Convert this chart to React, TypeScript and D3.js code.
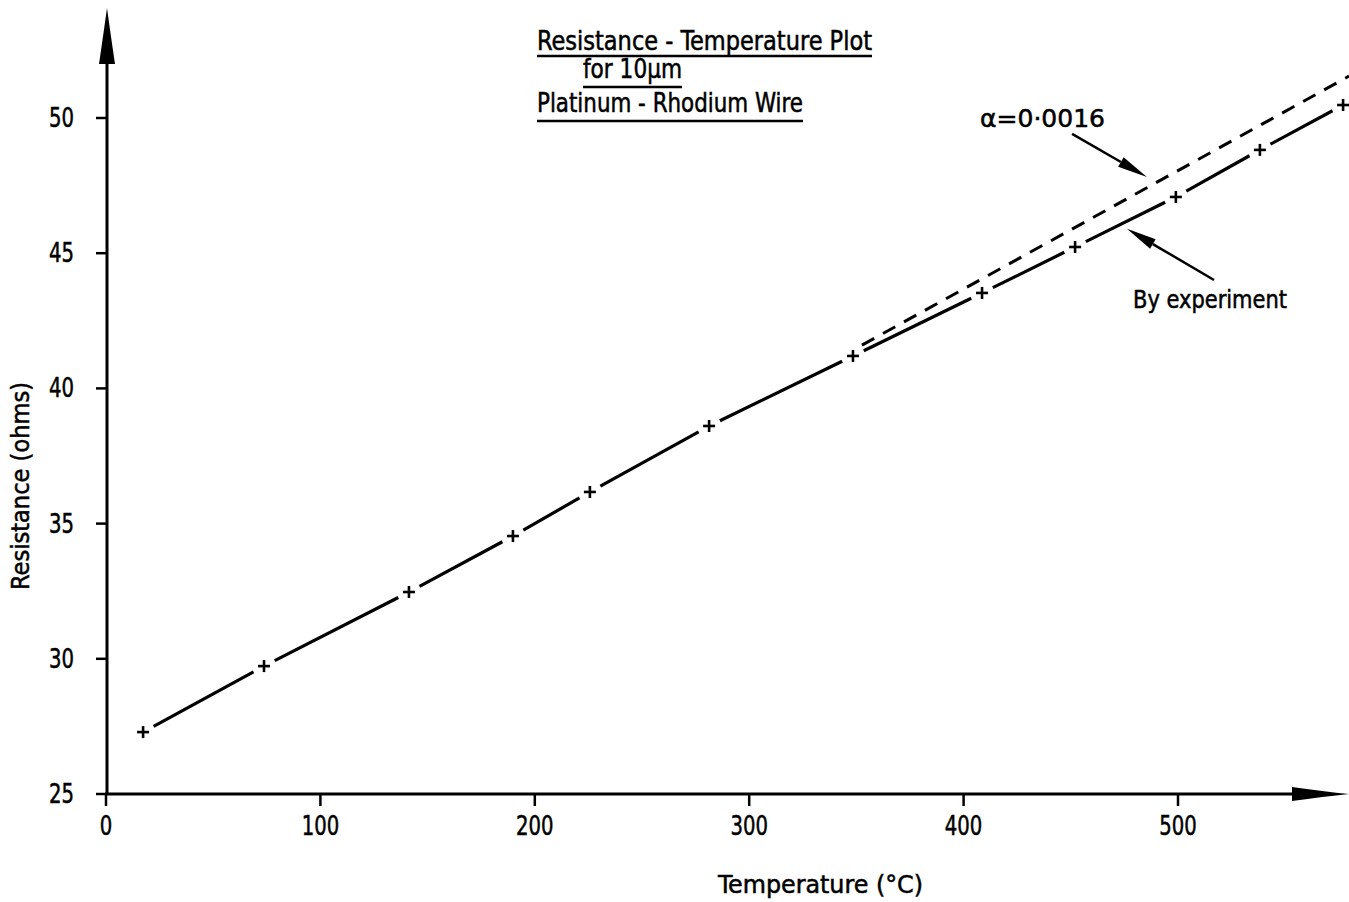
import React, { useEffect, useRef } from "react";
import * as d3 from "d3";

// readings: temperature (°C) and resistance (ohms)
const temps = [17.3, 73.7, 141.3, 189.8, 225.7, 281.3, 348.4, 408.6, 452, 499, 538.2, 577];
const resist = [27.29, 29.73, 32.47, 34.54, 36.17, 38.61, 41.2, 43.53, 45.23, 47.08, 48.82, 50.48];

// theoretical line, alpha = 0.0016
const alphaT = [352.6, 579.8];
const alphaR = [41.6, 51.55];

const xTicks = [0, 100, 200, 300, 400, 500];
const yTicks = [25, 30, 35, 40, 45, 50];

const titleLines = ["Resistance - Temperature  Plot", "for  10\u00b5m", "Platinum - Rhodium  Wire"];

const W = 1349;
const H = 902;
const FONT = "'DejaVu Sans Condensed', 'DejaVu Sans', sans-serif";

function txt(g, s, size) {
    return g.append("text")
        .attr("font-family", FONT).attr("font-size", size)
        .attr("font-stretch", "condensed")
        .attr("stroke", "#000").attr("stroke-width", 0.5)
        .text(s);
}

function arrow(g, x1, y1, x2, y2, len, half) {
    const ang = Math.atan2(y2 - y1, x2 - x1);
    const bx = x2 - len * Math.cos(ang);
    const by = y2 - len * Math.sin(ang);
    g.append("line")
        .attr("x1", x1).attr("y1", y1).attr("x2", bx).attr("y2", by)
        .attr("stroke", "#000").attr("stroke-width", 2.5);
    const px = -Math.sin(ang) * half;
    const py = Math.cos(ang) * half;
    g.append("path")
        .attr("d", `M${x2},${y2}L${bx + px},${by + py}L${bx - px},${by - py}Z`)
        .attr("fill", "#000");
}

export default function App() {
    const ref = useRef(null);

    useEffect(() => {
        const svg = d3.select(ref.current);
        svg.selectAll("*").remove();

        const x = d3.scaleLinear().domain([0, 500]).range([106, 1178]);
        const y = d3.scaleLinear().domain([25, 50]).range([794, 118]);

        const g = svg.append("g");

        // axes lines
        g.append("line").attr("x1", x(0) + 1).attr("x2", x(0) + 1).attr("y1", y(25) + 1).attr("y2", 60)
            .attr("stroke", "#000").attr("stroke-width", 3);
        g.append("line").attr("x1", x(0) - 1).attr("x2", W - 50).attr("y1", y(25)).attr("y2", y(25))
            .attr("stroke", "#000").attr("stroke-width", 3);
        // arrow heads
        const ax = x(0) + 1;
        g.append("path")
            .attr("d", `M${ax},8 Q${ax + 3},30 ${ax + 8},64 L${ax - 8},64 Q${ax - 3},30 ${ax},8Z`)
            .attr("fill", "#000");
        const ay = y(25);
        g.append("path")
            .attr("d", `M${W},${ay} Q${W - 25},${ay - 2.5} ${W - 57},${ay - 7} L${W - 57},${ay + 7} Q${W - 25},${ay + 2.5} ${W},${ay}Z`)
            .attr("fill", "#000");

        // ticks
        g.selectAll(".xt").data(xTicks).enter().append("line")
            .attr("x1", (d) => x(d)).attr("x2", (d) => x(d))
            .attr("y1", y(25)).attr("y2", y(25) + 12)
            .attr("stroke", "#000").attr("stroke-width", 2.5);
        xTicks.forEach((d) => {
            txt(g, d, 26).attr("x", x(d)).attr("y", 835).attr("text-anchor", "middle")
                .attr("textLength", String(d).length * 12.5).attr("lengthAdjust", "spacingAndGlyphs");
        });
        g.selectAll(".yt").data(yTicks).enter().append("line")
            .attr("x1", x(0) - 10).attr("x2", x(0) + 1)
            .attr("y1", (d) => y(d)).attr("y2", (d) => y(d))
            .attr("stroke", "#000").attr("stroke-width", 2.5);
        yTicks.forEach((d) => {
            txt(g, d, 26).attr("x", 74).attr("y", y(d) + 9).attr("text-anchor", "end")
                .attr("textLength", 25).attr("lengthAdjust", "spacingAndGlyphs");
        });

        // axis titles
        txt(g, "Temperature  (\u00b0C)", 25)
            .attr("x", 718).attr("y", 893)
            .attr("textLength", 205).attr("lengthAdjust", "spacingAndGlyphs");
        txt(g, "Resistance  (ohms)", 25)
            .attr("transform", "translate(29,486) rotate(-90)")
            .attr("text-anchor", "middle")
            .attr("textLength", 208).attr("lengthAdjust", "spacingAndGlyphs");

        // dashed alpha line
        g.append("path")
            .datum(alphaT.map((t, i) => [t, alphaR[i]]))
            .attr("fill", "none").attr("stroke", "#000").attr("stroke-width", 3)
            .attr("stroke-dasharray", "14 10")
            .attr("d", d3.line().x((d) => x(d[0])).y((d) => y(d[1])));

        // experimental line, broken around each marker
        const pts = temps.map((t, i) => [x(t), y(resist[i])]);
        const gap = 12;
        for (let i = 0; i < pts.length - 1; i++) {
            const [x0, y0] = pts[i];
            const [x1, y1] = pts[i + 1];
            const len = Math.hypot(x1 - x0, y1 - y0);
            const ux = (x1 - x0) / len;
            const uy = (y1 - y0) / len;
            g.append("line")
                .attr("x1", x0 + ux * gap).attr("y1", y0 + uy * gap)
                .attr("x2", x1 - ux * gap).attr("y2", y1 - uy * gap)
                .attr("stroke", "#000").attr("stroke-width", 3.2);
        }

        // markers
        const m = g.selectAll(".pt").data(pts).enter().append("g")
            .attr("transform", (d) => `translate(${d[0]},${d[1]})`);
        m.append("line").attr("x1", -6).attr("x2", 6).attr("y1", 0).attr("y2", 0)
            .attr("stroke", "#000").attr("stroke-width", 2.6);
        m.append("line").attr("x1", 0).attr("x2", 0).attr("y1", -6).attr("y2", 6)
            .attr("stroke", "#000").attr("stroke-width", 2.6);

        // title
        const titleY = [50, 78, 112];
        const titleX = [537, 583, 537];
        const titleW = [335, 99, 266];
        const ulY = [56, 87, 121];
        titleLines.forEach((s, i) => {
            txt(g, s, 26)
                .attr("x", titleX[i]).attr("y", titleY[i])
                .attr("textLength", titleW[i]).attr("lengthAdjust", "spacingAndGlyphs");
            g.append("line")
                .attr("x1", titleX[i]).attr("x2", titleX[i] + titleW[i])
                .attr("y1", ulY[i]).attr("y2", ulY[i])
                .attr("stroke", "#000").attr("stroke-width", 2.5);
        });

        // annotations
        txt(g, "\u03b1=0\u00b70016", 25)
            .attr("x", 980).attr("y", 127)
            .attr("textLength", 125).attr("lengthAdjust", "spacingAndGlyphs");
        arrow(g, x(450.6), y(49.41), x(485.5), y(47.82), 30, 5.5);

        txt(g, "By  experiment", 25)
            .attr("x", 1133).attr("y", 308)
            .attr("textLength", 154).attr("lengthAdjust", "spacingAndGlyphs");
        arrow(g, x(516.8), y(44.01), x(476.2), y(45.9), 30, 5.5);
    }, []);

    return (
        <svg
            ref={ref}
            width={W}
            height={H}
            style={{ position: "absolute", left: 0, top: 0, background: "#fff" }}
        ></svg>
    );
}
